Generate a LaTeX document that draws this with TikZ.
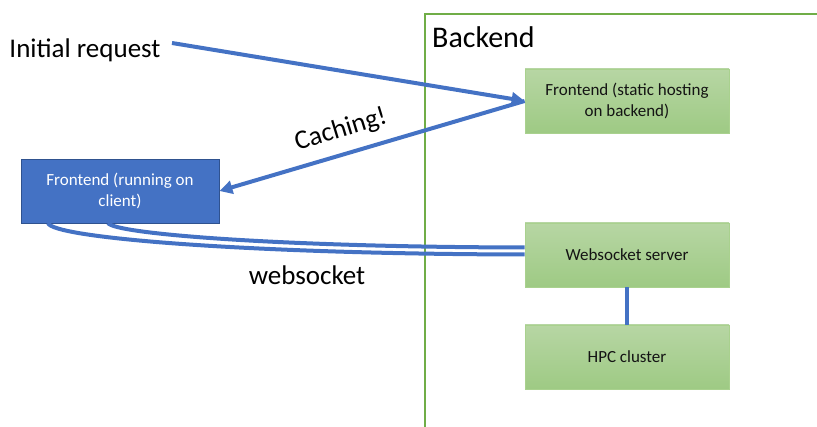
\documentclass[tikz,border=0pt]{standalone}
\usepackage{fontspec}
\setmainfont{Carlito}
\usetikzlibrary{arrows.meta}
\definecolor{flowblue}{HTML}{4472C4}
\definecolor{boxblueedge}{HTML}{2F528F}
\definecolor{greentop}{RGB}{183,214,164}
\definecolor{greenbot}{RGB}{158,202,132}
\definecolor{greenedge}{RGB}{169,209,142}
\definecolor{backendgreen}{HTML}{70AD47}
\definecolor{boxtext}{RGB}{20,20,20}
\begin{document}
\begin{tikzpicture}[x=1pt,y=-1pt,
  greenbox/.style={draw=greenedge, line width=0.8pt, top color=greentop, bottom color=greenbot,
    minimum width=204pt, minimum height=64pt, align=center, text=boxtext,
    font=\fontsize{17}{20.5}\selectfont, inner sep=0pt},
  bluebox/.style={draw=boxblueedge, line width=0.8pt, fill=flowblue,
    minimum width=198pt, minimum height=64pt, align=center, text=white,
    font=\fontsize{17}{20.5}\selectfont, inner sep=0pt},
  biglabel/.style={font=\fontsize{27}{32}\selectfont, inner sep=0pt},
  flow/.style={draw=flowblue, line width=4pt},
  flowarrow/.style={flow, -{Triangle[length=13pt,width=13pt]}},
]
\useasboundingbox (0,0) rectangle (817,427);

% backend region (open to the right and bottom)
\draw[draw=backendgreen, line width=1.3pt] (818,14) -- (425,14) -- (425,428);
\node[anchor=west, font=\fontsize{30}{36}\selectfont, inner sep=0pt] (backend) at (432,37) {Backend};

% boxes
\node[greenbox] (static) at (627,101) {Frontend (static hosting\\on backend)};
\node[bluebox] (client) at (120,191) {Frontend (running on\\client)};
\node[greenbox] (ws) at (627,255) {Websocket server};
\node[greenbox] (hpc) at (627,357) {HPC cluster};

% labels
\node[biglabel] (initial) at (85,50) {Initial request};
\coordinate (initend) at (172,43);
\node[biglabel, rotate=17] (caching) at (341,130) {Caching!};
\node[biglabel] (wslabel) at (307,275) {websocket};

% connectors
\draw[flowarrow] (initend) -- (static.west);
\draw[flowarrow] (static.west) -- (client.east);
\draw[flow] (ws.south) -- (hpc.north);

% websocket link: two parallel curves
\coordinate (outerstart) at (48,223);
\coordinate (innerstart) at (108,223);
\draw[flow] (outerstart) .. controls (52,238) and (250,254) .. ([yshift=0.5pt]ws.west);
\draw[flow] (innerstart) .. controls (115,234) and (280,247) .. ([yshift=7.5pt]ws.west);
\end{tikzpicture}
\end{document}
